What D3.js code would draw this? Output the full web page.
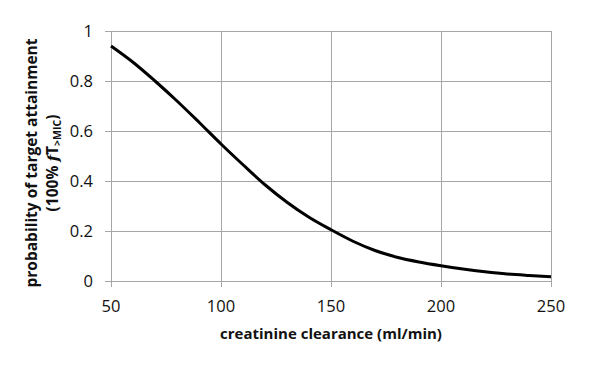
<!DOCTYPE html>
<html>
<head>
<meta charset="utf-8">
<script src="https://cdn.jsdelivr.net/npm/d3@7"></script>
<style>
  body { margin: 0; background: #fff; }
  svg { display: block; }
</style>
</head>
<body>
<div id="chart"></div>
<script>
// creatinine clearance (ml/min)
const clearance = [50, 60, 70, 80, 90, 100, 110, 120, 130, 140, 150,
  160, 170, 180, 190, 200, 210, 220, 230, 240, 250];
// probability of target attainment
const probability = [0.94, 0.875, 0.80, 0.72, 0.635, 0.548, 0.465, 0.385, 0.315, 0.255, 0.205,
  0.159, 0.122, 0.095, 0.076, 0.061, 0.048, 0.037, 0.028, 0.022, 0.017];
const xTicks = [50, 100, 150, 200, 250];
const yTicks = [0, 0.2, 0.4, 0.6, 0.8, 1];

const width = 600;
const height = 371;
const margin = { t: 31, r: 49, b: 90, l: 111 };
const font = 'Open Sans, sans-serif';
const gridColor = '#a6a6a6';

const svg = d3
  .select('#chart')
  .append('svg')
  .attr('width', width)
  .attr('height', height);

const x = d3.scaleLinear().domain([50, 250]).range([margin.l, width - margin.r]);
const y = d3.scaleLinear().domain([0, 1]).range([height - margin.b, margin.t]);

// grid lines
svg
  .append('g')
  .selectAll('line')
  .data(yTicks)
  .join('line')
  .attr('x1', margin.l - 6)
  .attr('x2', width - margin.r)
  .attr('y1', (d) => Math.round(y(d)) + 0.5)
  .attr('y2', (d) => Math.round(y(d)) + 0.5)
  .attr('stroke', gridColor)
  .attr('stroke-width', 1);

svg
  .append('g')
  .selectAll('line')
  .data(xTicks)
  .join('line')
  .attr('x1', (d) => Math.round(x(d)) + 0.5)
  .attr('x2', (d) => Math.round(x(d)) + 0.5)
  .attr('y1', margin.t)
  .attr('y2', height - margin.b + 6)
  .attr('stroke', gridColor)
  .attr('stroke-width', 1);

// tick labels
svg
  .append('g')
  .selectAll('text')
  .data(yTicks)
  .join('text')
  .attr('x', 93)
  .attr('y', (d) => y(d))
  .attr('dy', '0.35em')
  .attr('text-anchor', 'end')
  .attr('font-family', font)
  .attr('font-size', '16.5px')
  .attr('fill', '#111')
  .text((d) => d3.format('~g')(d));

svg
  .append('g')
  .selectAll('text')
  .data(xTicks)
  .join('text')
  .attr('x', (d) => x(d))
  .attr('y', 312)
  .attr('text-anchor', 'middle')
  .attr('font-family', font)
  .attr('font-size', '16.5px')
  .attr('fill', '#111')
  .text((d) => d);

// curve
const line = d3
  .line()
  .x((d, i) => x(clearance[i]))
  .y((d) => y(d))
  .curve(d3.curveMonotoneX);

svg
  .append('path')
  .datum(probability)
  .attr('d', line)
  .attr('fill', 'none')
  .attr('stroke', '#000')
  .attr('stroke-width', 3);

// axis titles
svg
  .append('text')
  .attr('x', (margin.l + width - margin.r) / 2)
  .attr('y', 339)
  .attr('text-anchor', 'middle')
  .attr('font-family', font)
  .attr('font-weight', 'bold')
  .attr('font-size', '15px')
  .attr('fill', '#111')
  .text('creatinine clearance (ml/min)');

const yTitle = svg
  .append('g')
  .attr('transform', 'translate(0,163) rotate(-90)')
  .attr('font-family', font)
  .attr('font-weight', 'bold')
  .attr('font-size', '15.5px')
  .attr('fill', '#111')
  .attr('text-anchor', 'middle');

yTitle.append('text').attr('x', 0).attr('y', 37).text('probability of target attainment');

const line2 = yTitle.append('text').attr('x', 0).attr('y', 58);
line2.append('tspan').text('(100% ');
line2.append('tspan').attr('font-style', 'italic').attr('font-family', 'DejaVu Serif, serif').text('f');
line2.append('tspan').text('T');
line2.append('tspan').attr('font-size', '10.5px').attr('dy', 3).text('>MIC');
line2.append('tspan').attr('dy', -3).text(')');
</script>
</body>
</html>
